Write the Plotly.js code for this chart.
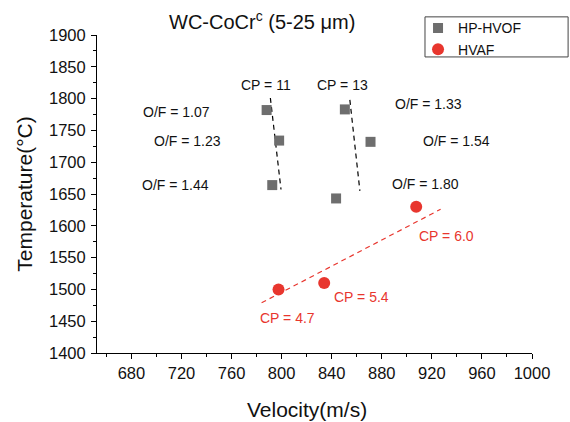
<!DOCTYPE html>
<html>
<head>
<meta charset="utf-8">
<script src="https://cdn.plot.ly/plotly-3.0.1.min.js"></script>
<style>html,body{margin:0;padding:0;background:#fff;}#chart{width:570px;height:422px;}</style>
</head>
<body>
<div id="chart"></div>
<script>
// HP-HVOF data
const hvofVelocity = [788, 798, 792.5, 850.5, 871, 843.5];
const hvofTemp = [1782, 1734, 1664, 1783, 1732, 1643];
// HVAF data
const hvafVelocity = [797.5, 834, 907.5];
const hvafTemp = [1500, 1510, 1630];
// Guide/trend lines
const cp11LineX = [791, 799.5];
const cp11LineY = [1801, 1657];
const cp13LineX = [854.5, 862.5];
const cp13LineY = [1798, 1655];
const hvafFitX = [784, 927];
const hvafFitY = [1479, 1626];
// Labels
const blackLabels = ["CP = 11", "CP = 13", "O/F = 1.07", "O/F = 1.23", "O/F = 1.44", "O/F = 1.33", "O/F = 1.54", "O/F = 1.80"];
const blackLabelX = [787.5, 849, 716, 725, 715.5, 917, 940, 915];
const blackLabelY = [1821, 1821, 1779, 1733, 1664, 1792, 1733, 1666];
const redLabels = ["CP = 6.0", "CP = 5.4", "CP = 4.7"];
const redLabelX = [932, 863.5, 805];
const redLabelY = [1584, 1488, 1455];
const xTicks = [680, 720, 760, 800, 840, 880, 920, 960, 1000];
const yTicks = [1400, 1450, 1500, 1550, 1600, 1650, 1700, 1750, 1800, 1850, 1900];

const FONT = "Liberation Sans, Arial, sans-serif";
const RED = "#e8362e";
const GREY = "#6e6e6e";

const traces = [
  {x: cp11LineX, y: cp11LineY, mode: "lines", line: {color: "#000", width: 1.2, dash: "5px,4px"}, showlegend: false, hoverinfo: "skip"},
  {x: cp13LineX, y: cp13LineY, mode: "lines", line: {color: "#000", width: 1.2, dash: "5px,4px"}, showlegend: false, hoverinfo: "skip"},
  {x: hvafFitX, y: hvafFitY, mode: "lines", line: {color: RED, width: 1.2, dash: "5px,4px"}, showlegend: false, hoverinfo: "skip"},
  {x: hvofVelocity, y: hvofTemp, mode: "markers", name: "HP-HVOF", marker: {symbol: "square", size: 10, color: GREY}},
  {x: hvafVelocity, y: hvafTemp, mode: "markers", name: "HVAF", marker: {symbol: "circle", size: 12, color: RED}}
];

const annotations = [];
blackLabels.forEach((t, i) => annotations.push({x: blackLabelX[i], y: blackLabelY[i], text: t, showarrow: false, xref: "x", yref: "y", font: {family: FONT, size: 14, color: "#111"}}));
redLabels.forEach((t, i) => annotations.push({x: redLabelX[i], y: redLabelY[i], text: t, showarrow: false, xref: "x", yref: "y", font: {family: FONT, size: 14, color: RED}}));
annotations.push({x: 0.483, y: -0.179, xref: "paper", yref: "paper", xanchor: "center", yanchor: "middle", showarrow: false,
  text: "Velocity(m/s)", font: {family: FONT, size: 21, color: "#111"}});

const axisCommon = {
  showgrid: false, zeroline: false, showline: true, linecolor: "#000", linewidth: 1,
  ticks: "outside", ticklen: 5, tickwidth: 1, tickcolor: "#000",
  tickfont: {family: FONT, size: 16.5, color: "#111"},
  mirror: false
};

const layout = {
  width: 570, height: 422,
  margin: {l: 97, r: 38, t: 35, b: 69},
  paper_bgcolor: "#fff", plot_bgcolor: "#fff",
  font: {family: FONT, color: "#111"},
  title: {text: "WC-CoCr<sup>c</sup> (5-25 μm)", font: {family: FONT, size: 20, color: "#111"}, x: 0.46, xref: "container", xanchor: "center", y: 0.947, yref: "container", yanchor: "middle"},
  xaxis: Object.assign({}, axisCommon, {
    range: [652.5, 1000], tickvals: xTicks, ticktext: xTicks.map(String),
    minor: {dtick: 20, tick0: 660, ticks: "outside", ticklen: 3, tickcolor: "#000", tickwidth: 1}
  }),
  yaxis: Object.assign({}, axisCommon, {
    range: [1400, 1900], tickvals: yTicks, ticktext: yTicks.map(String),
    minor: {dtick: 25, tick0: 1400, ticks: "outside", ticklen: 3, tickcolor: "#000", tickwidth: 1},
    ticklabelstandoff: 2,
    title: {text: "Temperature(°C)", font: {family: FONT, size: 21, color: "#111"}, standoff: 10}
  }),
  shapes: [{type: "rect", xref: "paper", yref: "paper", x0: 0.754, x1: 1.083, y0: 0.931, y1: 1.057,
    line: {color: "#444", width: 1}, fillcolor: "rgba(0,0,0,0)", layer: "below"}],
  legend: {x: 0.738, y: 1.071, xanchor: "left", yanchor: "top", xref: "paper", yref: "paper",
    borderwidth: 0, bgcolor: "rgba(0,0,0,0)",
    font: {family: FONT, size: 14, color: "#111"}, itemwidth: 30, tracegroupgap: 0},
  annotations: annotations,
  showlegend: true
};

Plotly.newPlot("chart", traces, layout, {staticPlot: true, displayModeBar: false});
</script>
</body>
</html>
